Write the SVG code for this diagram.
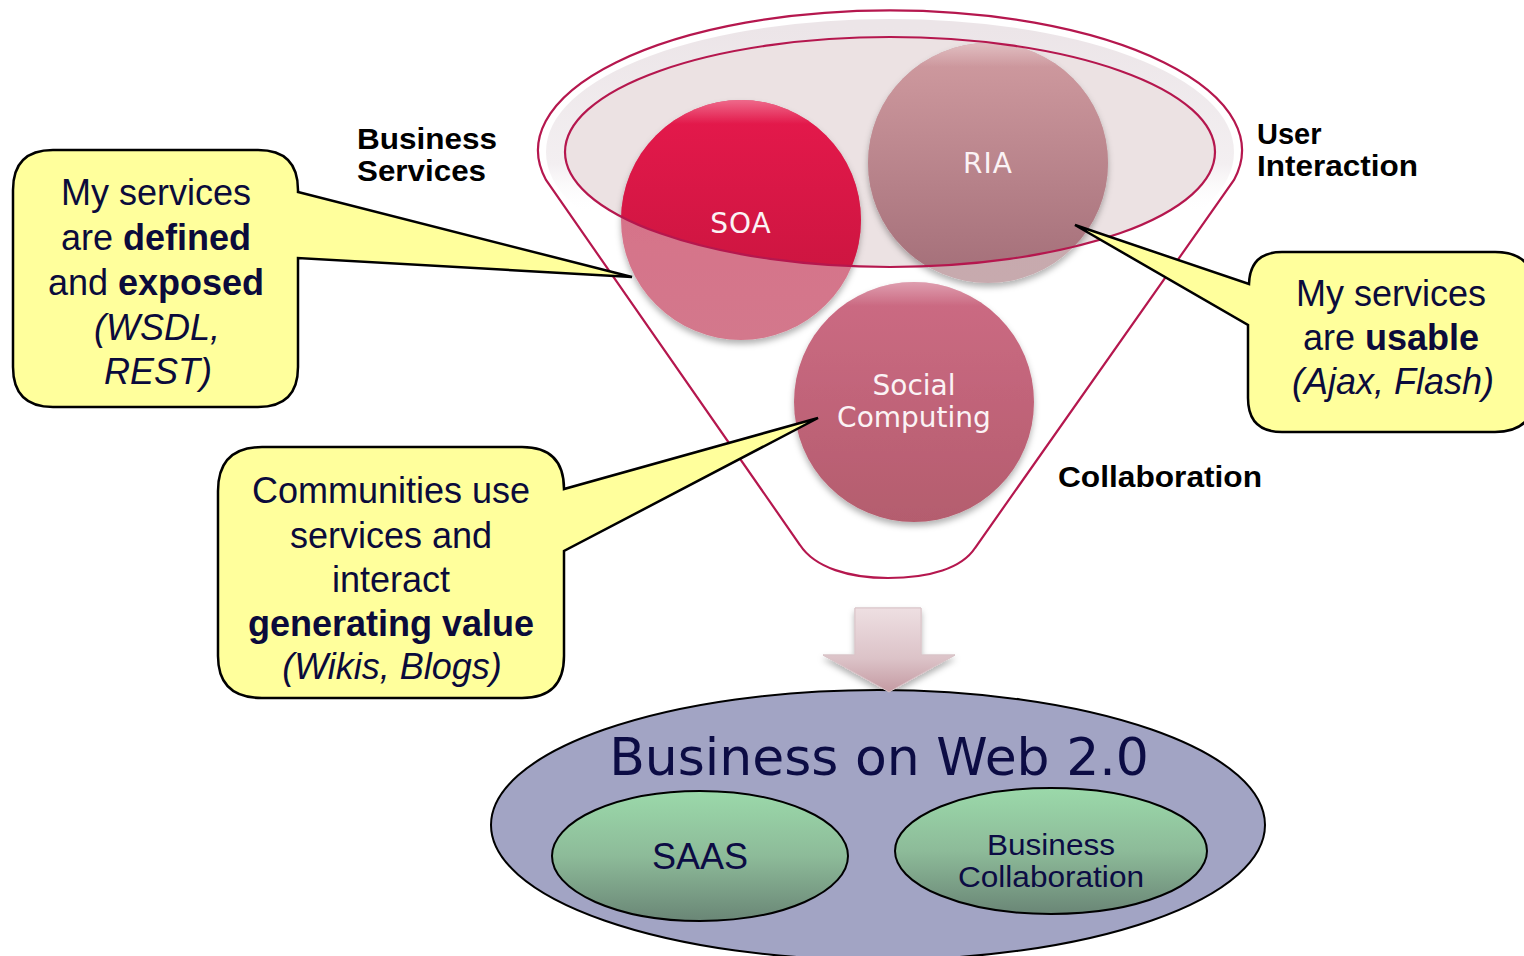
<svg xmlns="http://www.w3.org/2000/svg" width="1524" height="956" viewBox="0 0 1524 956">
<style>
.funnel{fill:none;stroke:#b5174e;stroke-width:2.2}
.callout{fill:#ffff9c;stroke:#000;stroke-width:2.5;stroke-linejoin:miter}
.ct{font-family:"Liberation Sans",Arial,sans-serif;font-size:36px;fill:#0b0b3b;text-anchor:middle}
.b{font-weight:bold}
.i{font-style:italic}
.lbl{font-family:"Liberation Sans",Arial,sans-serif;font-size:29px;font-weight:bold;fill:#000}
.circ{font-family:"DejaVu Sans",Verdana,sans-serif;font-size:28px;fill:#fbf3f5;text-anchor:middle}
.bt{font-family:"Liberation Sans",Arial,sans-serif;fill:#0c0c44;text-anchor:middle}
.green{stroke:#000;stroke-width:2;fill:url(#gGreen)}
</style>
<defs>
<linearGradient id="gSoaIn" x1="0" y1="0" x2="0" y2="1"><stop offset="0" stop-color="#e6194c"/><stop offset="1" stop-color="#c3143c"/></linearGradient>
<linearGradient id="gSoaOut" x1="0" y1="0" x2="0" y2="1"><stop offset="0" stop-color="#d96e87"/><stop offset="1" stop-color="#d3788c"/></linearGradient>
<linearGradient id="gRiaIn" x1="0" y1="0" x2="0" y2="1"><stop offset="0" stop-color="#d19ca1"/><stop offset="1" stop-color="#a36e78"/></linearGradient>
<linearGradient id="gRiaOut" x1="0" y1="0" x2="0" y2="1"><stop offset="0" stop-color="#c9a7ab"/><stop offset="1" stop-color="#c7aaae"/></linearGradient>
<linearGradient id="gSoc" x1="0" y1="0" x2="0" y2="1"><stop offset="0" stop-color="#cd6b84"/><stop offset="1" stop-color="#b45d6e"/></linearGradient>
<linearGradient id="gGloss" x1="0" y1="0" x2="0" y2="1"><stop offset="0" stop-color="#fff" stop-opacity="0.35"/><stop offset="0.1" stop-color="#fff" stop-opacity="0"/></linearGradient>
<linearGradient id="gGreen" x1="0" y1="0" x2="0" y2="1"><stop offset="0" stop-color="#9bd9aa"/><stop offset="0.5" stop-color="#8dbb99"/><stop offset="1" stop-color="#6a8676"/></linearGradient>
<linearGradient id="gArrow" x1="0" y1="0" x2="0" y2="1"><stop offset="0" stop-color="#eedfe2"/><stop offset="0.6" stop-color="#dcc3c8"/><stop offset="1" stop-color="#c49aa2"/></linearGradient>
<linearGradient id="gHalo" x1="0" y1="0" x2="0" y2="1"><stop offset="0" stop-color="#ece5e8"/><stop offset="0.55" stop-color="#f3eff1"/><stop offset="0.75" stop-color="#fff" stop-opacity="0"/></linearGradient>
<clipPath id="cpInner"><ellipse cx="890" cy="152" rx="325" ry="115"/></clipPath>
<filter id="sh" x="-20%" y="-20%" width="140%" height="140%"><feDropShadow dx="0" dy="4" stdDeviation="3" flood-color="#000" flood-opacity="0.3"/></filter>
</defs>

<g id="funnel">
<path d="M546,180 A352,140 0 1 1 1234,180 L975,548 C962,568 930,578 888,578 C850,578 815,568 800,545 Z" fill="#fff"/>
<ellipse cx="890" cy="152" rx="335" ry="124" fill="none" stroke="url(#gHalo)" stroke-width="18"/>
<ellipse cx="890" cy="152" rx="325" ry="115" fill="#ece2e3"/>
<path class="funnel" d="M546,180 A352,140 0 1 1 1234,180 L975,548 C962,568 930,578 888,578 C850,578 815,568 800,545 Z"/>
</g>

<g id="node-ria">
<circle cx="988" cy="163" r="120" fill="url(#gRiaOut)" filter="url(#sh)"/>
<circle cx="988" cy="163" r="120" fill="url(#gRiaIn)" clip-path="url(#cpInner)"/>
<circle cx="988" cy="163" r="120" fill="url(#gGloss)"/>
<text class="circ" x="988" y="173" letter-spacing="1">RIA</text>
</g>

<g id="node-soa">
<circle cx="741" cy="220" r="120" fill="url(#gSoaOut)" filter="url(#sh)"/>
<circle cx="741" cy="220" r="120" fill="url(#gSoaIn)" clip-path="url(#cpInner)"/>
<circle cx="741" cy="220" r="120" fill="url(#gGloss)"/>
<text class="circ" x="741" y="233" letter-spacing="1">SOA</text>
</g>

<ellipse cx="890" cy="152" rx="325" ry="115" fill="none" stroke="#b5174e" stroke-width="2.2"/>

<g id="node-social">
<circle cx="914" cy="402" r="120" fill="url(#gSoc)" filter="url(#sh)"/>
<circle cx="914" cy="402" r="120" fill="url(#gGloss)"/>
<text class="circ" x="914" y="395">Social</text>
<text class="circ" x="914" y="427">Computing</text>
</g>

<g id="labels">
<text class="lbl" x="357" y="149" textLength="140" lengthAdjust="spacingAndGlyphs">Business</text>
<text class="lbl" x="357" y="181" textLength="129" lengthAdjust="spacingAndGlyphs">Services</text>
<text class="lbl" x="1257" y="144">User</text>
<text class="lbl" x="1257" y="176" textLength="161" lengthAdjust="spacingAndGlyphs">Interaction</text>
<text class="lbl" x="1058" y="487" textLength="204" lengthAdjust="spacingAndGlyphs">Collaboration</text>
</g>

<g id="connectors">
<path d="M855,608 L921,608 L921,655 L955,655 L889,692 L823,655 L855,655 Z" fill="url(#gArrow)" stroke="#d9c4c8" stroke-width="1" filter="url(#sh)"/>
</g>

<g id="callout-soa">
<path class="callout" d="M53,150 H258 Q298,150 298,190 V192 L632,277 L298,258 V367 Q298,407 258,407 H53 Q13,407 13,367 V190 Q13,150 53,150 Z"/>
<text class="ct" x="156" y="205">My services</text>
<text class="ct" x="156" y="250">are <tspan class="b">defined</tspan></text>
<text class="ct" x="156" y="295">and <tspan class="b">exposed</tspan></text>
<text class="ct i" x="157" y="340">(WSDL,</text>
<text class="ct i" x="158" y="384">REST)</text>
</g>

<g id="callout-ria">
<path class="callout" d="M1282,252 H1495 Q1535,252 1535,292 V392 Q1535,432 1495,432 H1282 Q1248,432 1248,398 V325 L1075,225 L1249,284 Q1250,252 1282,252 Z"/>
<text class="ct" x="1391" y="306">My services</text>
<text class="ct" x="1391" y="350">are <tspan class="b">usable</tspan></text>
<text class="ct i" x="1393" y="394">(Ajax, Flash)</text>
</g>

<g id="callout-social">
<path class="callout" d="M262,447 H522 Q564,447 564,489 L818,418 L564,551 V656 Q564,698 522,698 H262 Q218,698 218,656 V491 Q218,447 262,447 Z"/>
<text class="ct" x="391" y="503">Communities use</text>
<text class="ct" x="391" y="548">services and</text>
<text class="ct" x="391" y="592">interact</text>
<text class="ct b" x="391" y="636">generating value</text>
<text class="ct i" x="392" y="679">(Wikis, Blogs)</text>
</g>

<g id="node-web20">
<ellipse cx="878" cy="825" rx="387" ry="135" fill="#a2a4c4" stroke="#000" stroke-width="2"/>
<text x="879" y="775" font-family="DejaVu Sans, Verdana, sans-serif" font-size="52" fill="#0c0c44" text-anchor="middle">Business on Web 2.0</text>
</g>

<g id="connector-arrow-top">
<path d="M855,608 L921,608 L921,655 L955,655 L889,692 L823,655 L855,655 Z" fill="url(#gArrow)" stroke="#d9c4c8" stroke-width="1"/>
</g>

<g id="node-saas">
<ellipse class="green" cx="700" cy="856" rx="148" ry="65"/>
<text class="bt" x="700" y="869" font-size="36">SAAS</text>
</g>

<g id="node-bizcollab">
<ellipse class="green" cx="1051" cy="851" rx="156" ry="63"/>
<text class="bt" x="1051" y="855" font-size="29" textLength="128" lengthAdjust="spacingAndGlyphs">Business</text>
<text class="bt" x="1051" y="887" font-size="29" textLength="186" lengthAdjust="spacingAndGlyphs">Collaboration</text>
</g>
</svg>
